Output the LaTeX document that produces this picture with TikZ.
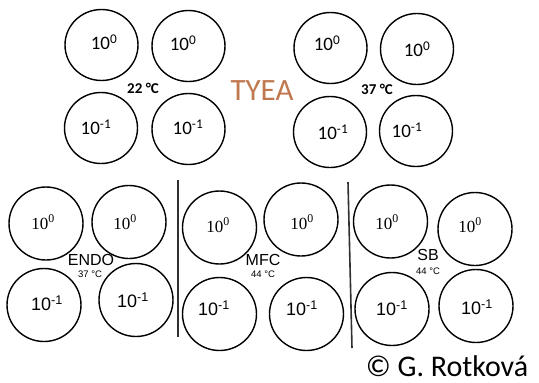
\documentclass[tikz,border=0pt]{standalone}
\usepackage{fontspec}
\setmainfont{Carlito}
\newfontfamily\arialf{Liberation Sans}
\newfontfamily\tnrf{Liberation Serif}
\usetikzlibrary{shapes.geometric}
\definecolor{tyea}{HTML}{C0784E}
\definecolor{sep}{HTML}{303030}
\begin{document}
\begin{tikzpicture}[x=1pt,y=-1pt,
  plate/.style={draw=black,ellipse,line width=1.4pt,inner sep=0pt,minimum width=73pt,minimum height=71pt},
  bplate/.style={plate,minimum width=74pt,minimum height=73pt},
  num/.style={inner sep=0pt,font=\fontsize{19}{19}\selectfont},
  snum/.style={inner sep=0pt,font=\tnrf\fontsize{17}{17}\selectfont},
  anum/.style={inner sep=0pt,font=\arialf\fontsize{18}{18}\selectfont},
  temp/.style={inner sep=0pt,font=\bfseries\fontsize{15}{15}\selectfont},
  lab/.style={inner sep=0pt,font=\arialf\fontsize{16}{16}\selectfont},
  stemp/.style={inner sep=0pt,font=\arialf\fontsize{9.5}{9.5}\selectfont},
  sepline/.style={draw=sep,line width=1.6pt}]
\useasboundingbox (0,0) rectangle (539,383);
% top-left group
\node[plate] (a1) at (101.5,45) {};
\node[plate] (a2) at (188.5,46) {};
\node[plate] (a3) at (101,128) {};
\node[plate] (a4) at (188.5,129) {};
\node[num] (ta1) at (104,42) {10\textsuperscript{0}};
\node[num] (ta2) at (183,43) {10\textsuperscript{0}};
\node[num] (ta3) at (96,127) {10\textsuperscript{-1}};
\node[num] (ta4) at (188,127) {10\textsuperscript{-1}};
\node[temp] (t22) at (143,88) {22 °C};
% title
\node[inner sep=0pt,text=tyea,font=\fontsize{31}{31}\selectfont] (tyea) at (262,91) {TYEA};
% top-right group
\node[plate] (b1) at (330.5,48) {};
\node[plate] (b2) at (417,49) {};
\node[plate] (b3) at (330,132) {};
\node[plate] (b4) at (416,131) {};
\node[num] (tb1) at (327,43) {10\textsuperscript{0}};
\node[num] (tb2) at (417,49) {10\textsuperscript{0}};
\node[num] (tb3) at (333,132) {10\textsuperscript{-1}};
\node[num] (tb4) at (407,130) {10\textsuperscript{-1}};
\node[temp] (t37) at (377,89) {37 °C};
% separators
\coordinate (s1t) at (178,180);
\coordinate (s1b) at (178,337);
\coordinate (s2t) at (348,182);
\coordinate (s2b) at (352,348);
\draw[sepline] (s1t) -- (s1b);
\draw[sepline] (s2t) -- (s2b);
% ENDO
\node[bplate] (c1) at (46,223.5) {};
\node[bplate] (c2) at (129,222) {};
\node[bplate] (c3) at (44,305) {};
\node[bplate] (c4) at (136,300) {};
\node[snum] (tc1) at (43,222) {10\textsuperscript{0}};
\node[snum] (tc2) at (125,222) {10\textsuperscript{0}};
\node[anum] (tc3) at (47,303) {10\textsuperscript{-1}};
\node[anum] (tc4) at (133,300) {10\textsuperscript{-1}};
\node[lab] (endo) at (91,260) {ENDO};
\node[stemp] (e37) at (90,274) {37 °C};
% MFC
\node[bplate] (d1) at (219.5,227.5) {};
\node[bplate] (d2) at (301,219.5) {};
\node[bplate] (d3) at (219.5,314) {};
\node[bplate] (d4) at (306.5,314) {};
\node[snum] (td1) at (218,225) {10\textsuperscript{0}};
\node[snum] (td2) at (302,222) {10\textsuperscript{0}};
\node[anum] (td3) at (214,308) {10\textsuperscript{-1}};
\node[anum] (td4) at (302,308) {10\textsuperscript{-1}};
\node[lab] (mfc) at (263,260) {MFC};
\node[stemp] (m44) at (263,274) {44 °C};
% SB
\node[bplate] (e1) at (390.5,221.5) {};
\node[bplate] (e2) at (475,229) {};
\node[bplate] (e3) at (392,309) {};
\node[bplate] (e4) at (476,306) {};
\node[snum] (te1) at (387,222) {10\textsuperscript{0}};
\node[snum] (te2) at (470,225) {10\textsuperscript{0}};
\node[anum] (te3) at (392,308) {10\textsuperscript{-1}};
\node[anum] (te4) at (477,307) {10\textsuperscript{-1}};
\node[lab] (sb) at (428,255) {SB};
\node[stemp] (s44) at (428,271) {44 °C};
% copyright
\node[inner sep=0pt,anchor=base,font=\fontsize{30}{30}\selectfont] (copy) at (447,376) {© G. Rotková};
\end{tikzpicture}
\end{document}
